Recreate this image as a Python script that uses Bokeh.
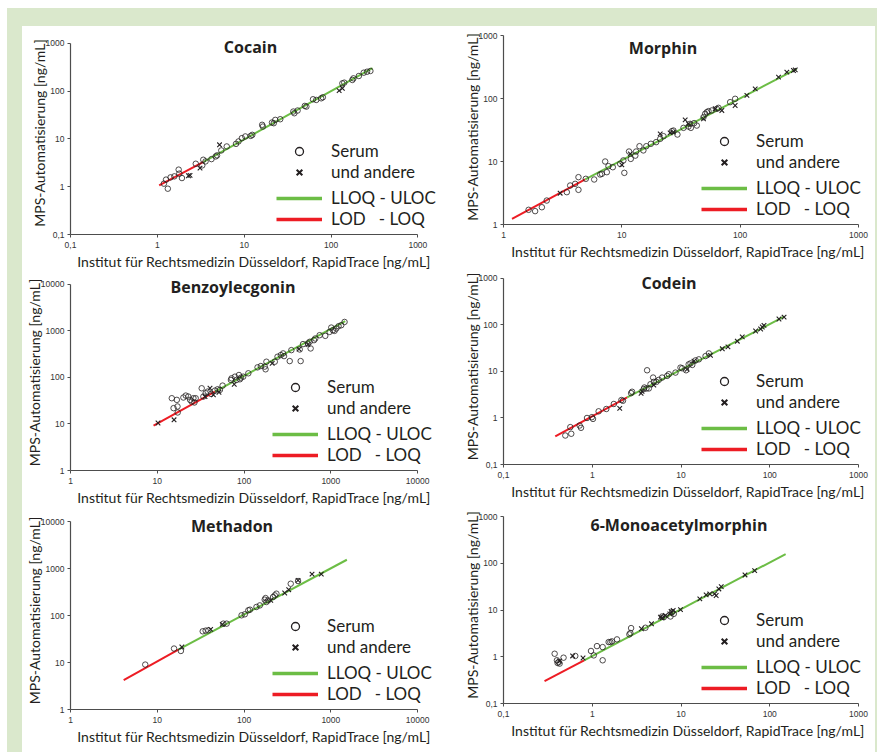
import math
from bokeh.plotting import figure
from bokeh.models import (Range1d, FixedTicker, Label, Legend, LegendItem)
from bokeh.layouts import column, row
from bokeh.embed import file_html
from bokeh.resources import INLINE

# ---------------- data ----------------
x_label = "Institut für Rechtsmedizin Düsseldorf, RapidTrace [ng/mL]"
y_label = "MPS-Automatisierung [ng/mL]"
legend_labels = ["Serum", "und andere", "LLOQ - ULOC", "LOD\u00a0\u00a0 - LOQ"]
titles = ["Cocain", "Morphin", "Benzoylecgonin", "Codein", "Methadon", "6-Monoacetylmorphin"]
ticks_small = [0.1, 1, 10, 100, 1000]
ticks_mid = [1, 10, 100, 1000]
ticks_big = [1, 10, 100, 1000, 10000]
tick_text = {0.1: "0,1", 1: "1", 10: "10", 100: "100", 1000: "1000", 10000: "10000"}

# Cocain
cocain_serum_x = [1.19, 1.26, 1.32, 1.42, 1.57, 1.76, 1.79, 1.92, 2.77, 3.29, 3.38, 3.59, 4.2, 4.7, 4.87,
                  5.45, 6.3, 8.05, 8.6, 9.4, 10.3, 11.9, 12.4, 16.1, 16.4, 20.9, 21.9, 22.8, 26, 36.8,
                  37.8, 41.2, 49.9, 52, 62, 67.6, 77, 80.5, 135, 142, 176, 181, 209, 238, 260, 284]
cocain_serum_y = [1.16, 1.41, 0.91, 1.57, 1.65, 2.28, 1.88, 1.52, 3.03, 2.80, 3.67, 3.39, 3.79, 4.31, 4.53,
                  5.76, 6.97, 7.9, 8.87, 10.4, 11.3, 11.6, 12.2, 19.8, 18.2, 22.1, 21.4, 25.1, 25.9, 37.5,
                  34.6, 39.4, 49.2, 47.6, 67.8, 65.6, 71.1, 74.6, 146, 151, 172, 186, 208, 244, 256, 265]
cocain_other_x = [2.28, 2.38, 3.10, 5.2, 124, 135]
cocain_other_y = [1.70, 1.73, 2.46, 7.55, 103, 115]
cocain_lod_x = [1.05, 3.4]
cocain_lod_y = [1.07, 3.3]
cocain_loq_x = [3.4, 300]
cocain_loq_y = [3.3, 305]

# Morphin
morphin_serum_x = [1.63, 1.85, 2.11, 2.32, 3.43, 3.66, 4.03, 4.30, 4.30, 4.96, 5.84, 6.56, 6.78, 7.23, 7.47,
                   7.71, 8.39, 9.68, 10.3, 10.5, 11.5, 11.9, 13.0, 13.2, 14.1, 15.2, 16.1, 17.6, 19.5, 21.1,
                   22.5, 26.5, 27.3, 29.5, 33.2, 36.6, 37.8, 38.3, 40.8, 43.0, 49.0, 50.6, 52.3, 54.0, 57.6,
                   63.5, 65.6, 82.3, 90.7]
morphin_serum_y = [1.71, 1.63, 1.88, 2.40, 3.26, 4.16, 4.42, 5.64, 3.55, 5.31, 5.18, 6.22, 6.37, 10.0, 6.77,
                   8.44, 8.12, 9.18, 10.4, 6.60, 14.4, 11.0, 12.4, 14.4, 17.5, 15.0, 17.5, 19.1, 20.3, 22.9,
                   25.2, 30.3, 31.0, 26.8, 34.2, 35.9, 39.6, 34.2, 40.6, 37.2, 50.6, 57.2, 60.7, 63.0, 64.6,
                   68.6, 71.1, 87.5, 98.9]
morphin_other_x = [3.01, 10.0, 11.8, 21.1, 25.6, 27.3, 34.3, 36.6, 49.0, 61.5, 70.0, 90.7, 114, 134, 211,
                   248, 282, 292]
morphin_other_y = [3.14, 8.85, 13.2, 27.5, 28.5, 29.2, 45.8, 39.6, 47.5, 68.6, 64.6, 77.4, 112, 142, 218,
                   262, 278, 285]
morphin_lod_x = [1.18, 4.9]
morphin_lod_y = [1.23, 5.2]
morphin_loq_x = [4.9, 301]
morphin_loq_y = [5.2, 296]

# Benzoylecgonin
benzo_serum_x = [14.7, 15.4, 16.8, 17.1, 17.2, 20.0, 21.3, 22.8, 23.9, 24.9, 26.1, 26.8, 27.7, 32.5, 34.0,
                 36.1, 38.1, 41.6, 46.2, 49.6, 52.7, 56.6, 70.6, 71.8, 78.5, 82.0, 87.3, 89.6, 92.0, 97.8,
                 112, 143, 156, 173, 177, 181, 226, 243, 265, 282, 289, 336, 351, 438, 449, 478, 545, 570,
                 585, 640, 662, 743, 863, 968, 1012, 1057, 1104, 1154, 1228, 1318, 1439]
benzo_serum_y = [35.8, 21.9, 33.0, 23.8, 17.7, 37.1, 40.8, 38.9, 33.0, 30.4, 35.8, 29.0, 35.8, 58.6, 38.9,
                 45.8, 49.8, 44.4, 52.2, 55.8, 54.1, 66.9, 88.4, 95.9, 104, 88.4, 113, 91.5, 99.1, 104,
                 123, 165, 176, 171, 150, 218, 218, 279, 303, 329, 288, 225, 387, 400, 225, 521, 538, 584,
                 421, 634, 689, 811, 785, 955, 1183, 1038, 1005, 1127, 1265, 1328, 1563]
benzo_other_x = [10.2, 15.6, 35.5, 40.5, 44.3, 51.4, 77.1, 211, 430, 545]
benzo_other_y = [10.5, 12.3, 38.9, 58.6, 42.3, 48.2, 71.4, 201, 407, 512]
benzo_lod_x = [9.06, 46.2]
benzo_lod_y = [9.18, 49.8]
benzo_loq_x = [46.2, 1465]
benzo_loq_y = [49.8, 1620]

# Codein
codein_serum_x = [0.497, 0.58, 0.566, 0.721, 0.747, 0.873, 0.99, 1.02, 1.18, 1.44, 1.75, 2.13, 2.22, 2.74,
                  2.81, 3.80, 3.87, 4.08, 4.15, 4.34, 4.53, 4.85, 4.94, 5.29, 5.62, 6.13, 6.98, 7.29, 8.67,
                  9.87, 10.3, 11.4, 12.2, 12.8, 13.4, 14.6, 15.9, 18.9, 20.6]
codein_serum_y = [0.42, 0.458, 0.636, 0.689, 0.615, 1.0, 1.04, 0.955, 1.39, 1.56, 2.0, 2.43, 2.35, 3.42,
                  3.66, 4.17, 4.52, 4.31, 10.6, 4.31, 5.32, 7.39, 5.97, 5.97, 6.59, 7.39, 8.02, 8.71, 9.45,
                  12.1, 11.7, 10.6, 14.2, 14.9, 13.8, 17.3, 18.2, 21.4, 24.4]
codein_other_x = [2.04, 3.55, 3.64, 4.94, 11.7, 14.0, 21.5, 29.2, 33.8, 43.1, 49.0, 69.3, 78.9, 82.4, 86.1,
                  127, 145]
codein_other_y = [1.61, 3.37, 3.72, 5.07, 11.1, 16.7, 22.1, 30.7, 33.8, 44.7, 55.2, 74.1, 81.8, 90.3, 98.0,
                  134, 147]
codein_lod_x = [0.383, 2.47]
codein_lod_y = [0.40, 2.77]
codein_loq_x = [2.47, 147]
codein_loq_y = [2.77, 152]

# Methadon
methadon_serum_x = [7.27, 15.6, 18.7, 33.4, 36.1, 38.8, 57.7, 63.0, 93.6, 102, 112, 117, 139, 152, 173, 177,
                    181, 190, 216, 226, 236, 345, 419]
methadon_serum_y = [9.03, 19.8, 17.6, 46.1, 47.6, 48.4, 67.1, 67.1, 101, 106, 129, 133, 152, 164, 217, 235,
                    194, 210, 247, 268, 291, 474, 541]
methadon_other_x = [19.2, 41.2, 56.1, 203, 294, 327, 419, 607, 776]
methadon_other_y = [21.4, 50.8, 64.9, 210, 301, 354, 558, 760, 760]
methadon_lod_x = [4.1, 17.5]
methadon_lod_y = [4.2, 18.8]
methadon_loq_x = [17.5, 1530]
methadon_loq_y = [18.8, 1535]

# 6-Monoacetylmorphin
mam_serum_x = [0.377, 0.400, 0.407, 0.418, 0.429, 0.475, 0.644, 0.968, 1.04, 1.13, 1.31, 1.31, 1.53, 1.60,
               1.67, 1.90, 2.62, 2.69, 2.74, 3.97, 6.12, 6.40, 7.61, 7.94, 8.30]
mam_serum_y = [1.16, 0.840, 0.736, 0.773, 0.713, 0.955, 1.04, 1.33, 1.07, 1.69, 1.61, 0.840, 2.06, 2.06,
               2.13, 2.35, 3.01, 3.21, 4.10, 4.17, 7.27, 7.03, 7.27, 8.99, 8.28]
mam_other_x = [0.429, 0.601, 0.787, 3.58, 4.65, 5.87, 6.12, 6.68, 7.48, 7.74, 8.16, 9.87, 16.3, 19.2, 21.1,
               23.9, 24.9, 26.7, 28.4, 52.6, 67.6]
mam_other_y = [0.811, 1.04, 0.940, 3.97, 5.07, 7.03, 6.81, 7.64, 8.28, 9.29, 9.75, 10.2, 17.3, 21.0, 22.1,
               22.1, 20.4, 28.2, 31.7, 56.2, 69.5]
mam_lod_x = [0.29, 0.81]
mam_lod_y = [0.30, 0.84]
mam_loq_x = [0.81, 151]
mam_loq_y = [0.84, 157]

# ---------------- style ----------------
INK = "#231f20"
GREEN = "#6cbd45"
RED = "#ed1c24"
FRAME_BG = "#dae8cc"
LABEL_FONT = "Lato"
TITLE_FONT = "Open Sans"
NAN = [float("nan")]


def panel(title, lo, hi, ticks, sx, sy, ox, oy, rx, ry, gx, gy,
          width, height, bl, br, bt, bb, ext_r, ext_t, tdx, tdy, leg_x):
    ax_w = width - bl - br          # pixel length of the x axis
    ax_h = height - bt - bb         # pixel length of the y axis
    dec = math.log10(hi) - math.log10(lo)
    x_end = 10 ** (math.log10(hi) + ext_r * dec / ax_w)
    y_end = 10 ** (math.log10(hi) + ext_t * dec / ax_h)
    p = figure(width=width, height=height, x_axis_type="log", y_axis_type="log",
               x_range=Range1d(lo, x_end), y_range=Range1d(lo, y_end),
               output_backend="svg", toolbar_location=None, tools="",
               min_border_left=bl, min_border_right=br - ext_r,
               min_border_top=bt - ext_t, min_border_bottom=bb)
    p.background_fill_color = "white"
    p.border_fill_color = "white"
    p.outline_line_color = None
    p.grid.visible = False
    for ax in (p.xaxis[0], p.yaxis[0]):
        ax.bounds = (lo, hi)
        ax.ticker = FixedTicker(ticks=ticks, minor_ticks=[])
        ax.major_label_overrides = {t: tick_text[t] for t in ticks}
        ax.axis_line_color = "#4d4d4d"
        ax.axis_line_width = 1.2
        ax.major_tick_line_color = "#4d4d4d"
        ax.major_tick_out = 3
        ax.major_tick_in = 0
        ax.minor_tick_line_color = None
        ax.major_label_text_font = "Liberation Sans"
        ax.major_label_text_font_size = "8.5px"
        ax.major_label_text_color = "#333333"
        ax.axis_label_text_font = LABEL_FONT
        ax.axis_label_text_font_size = "14px"
        ax.axis_label_text_font_style = "normal"
        ax.axis_label_text_color = INK
    p.xaxis.axis_label = x_label
    p.yaxis.axis_label = y_label
    p.xaxis.major_label_standoff = 4
    p.xaxis.axis_label_standoff = 2
    p.yaxis.major_label_standoff = 3
    p.yaxis.axis_label_standoff = -5

    p.line(rx, ry, line_color=RED, line_width=2)
    p.line(gx, gy, line_color=GREEN, line_width=2)
    p.scatter(sx, sy, marker="circle", size=5.5, fill_color=None, line_color=INK, line_width=0.8)
    p.scatter(ox, oy, marker="x", size=6.5, line_color=INK, line_width=1.1)

    # legend glyphs (no visible data)
    lc = p.scatter(NAN, NAN, marker="circle", size=8, fill_color=None, line_color=INK, line_width=1.3)
    lx = p.scatter(NAN, NAN, marker="x", size=8, line_color=INK, line_width=2)
    lg = p.line(NAN, NAN, line_color=GREEN, line_width=3.5)
    lr = p.line(NAN, NAN, line_color=RED, line_width=3.5)

    def mk(items, y):
        leg = Legend(items=items, location=(leg_x, y), orientation="vertical",
                     glyph_width=46, glyph_height=20, label_height=20, label_standoff=9,
                     spacing=0, padding=0, margin=0, border_line_color=None,
                     background_fill_alpha=0, label_text_font=LABEL_FONT,
                     label_text_font_size="17px", label_text_color=INK)
        p.add_layout(leg, "center")

    mk([LegendItem(label=legend_labels[0], renderers=[lc]),
        LegendItem(label=legend_labels[1], renderers=[lx])], 52)
    mk([LegendItem(label=legend_labels[2], renderers=[lg]),
        LegendItem(label=legend_labels[3], renderers=[lr])], 5)

    p.add_layout(Label(x=ax_w / 2 + tdx, y=ax_h - tdy, x_units="screen", y_units="screen", text=title,
                       text_align="center", text_baseline="middle", text_font=TITLE_FONT,
                       text_font_style="bold", text_font_size="16px", text_color=INK))
    return p


#            ... width height  bl  br  bt  bb ext_r ext_t tdx tdy leg_x
p1 = panel(titles[0], 0.1, 1000, ticks_small, cocain_serum_x, cocain_serum_y, cocain_other_x, cocain_other_y,
           cocain_lod_x, cocain_lod_y, cocain_loq_x, cocain_loq_y,
           418, 246, 42, 22, 17, 37, 20, 12, 3, 4, 206)
p3 = panel(titles[2], 1, 10000, ticks_big, benzo_serum_x, benzo_serum_y, benzo_other_x, benzo_other_y,
           benzo_lod_x, benzo_lod_y, benzo_loq_x, benzo_loq_y,
           418, 236, 46, 23, 12, 37, 20, 10, -12, 3, 202)
p5 = panel(titles[4], 1, 10000, ticks_big, methadon_serum_x, methadon_serum_y, methadon_other_x,
           methadon_other_y, methadon_lod_x, methadon_lod_y, methadon_loq_x, methadon_loq_y,
           418, 244, 46, 23, 13, 43, 20, 10, -13, 4, 202)
p2 = panel(titles[1], 1, 1000, ticks_mid, morphin_serum_x, morphin_serum_y, morphin_other_x, morphin_other_y,
           morphin_lod_x, morphin_lod_y, morphin_loq_x, morphin_loq_y,
           435, 236, 63, 17, 9, 38, 14, 6, -18, 12, 198)
p4 = panel(titles[3], 0.1, 1000, ticks_small, codein_serum_x, codein_serum_y, codein_other_x, codein_other_y,
           codein_lod_x, codein_lod_y, codein_loq_x, codein_loq_y,
           435, 240, 63, 17, 16, 36, 14, 10, -12, 6, 198)
p6 = panel(titles[5], 0.1, 1000, ticks_small, mam_serum_x, mam_serum_y, mam_other_x, mam_other_y,
           mam_lod_x, mam_lod_y, mam_loq_x, mam_loq_y,
           435, 250, 63, 17, 14, 49, 14, 10, -2, 8, 198)

inner = row(column(p1, p3, p5), column(p2, p4, p6), margin=(18, 2, 0, 15),
            styles={"background-color": "white"})
layout = column(inner, margin=(8, 0, 0, 7), styles={"background-color": FRAME_BG})

open("out.html", "w").write(file_html(layout, INLINE))
